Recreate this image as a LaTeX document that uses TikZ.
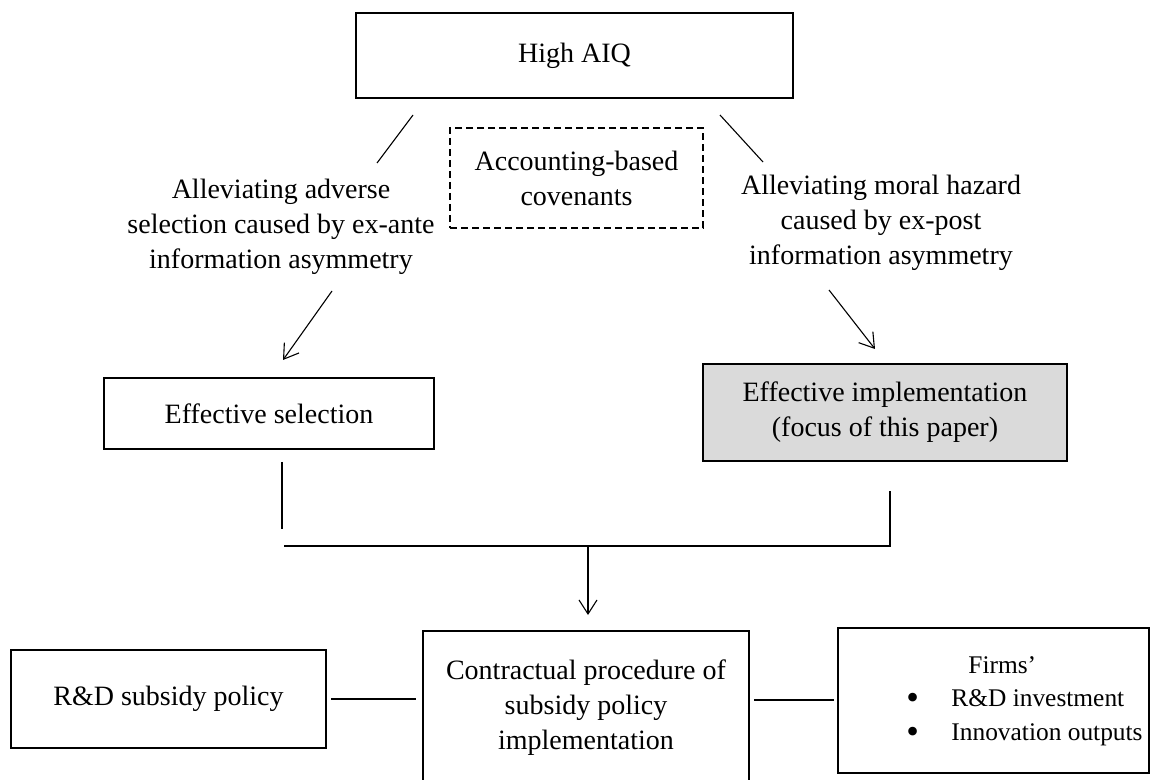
\documentclass[tikz,border=0pt]{standalone}
\usepackage{fontspec}
\setmainfont{Liberation Serif}
\usetikzlibrary{arrows.meta}
\definecolor{implgray}{RGB}{218,218,218}
\newcommand{\bigbul}{\makebox[22.5pt][l]{\raisebox{-1.6pt}{\fontsize{18}{18}\selectfont\textbullet}}}
\begin{document}
\begin{tikzpicture}[x=0.5pt,y=-0.5pt,
  every node/.style={font=\fontsize{14}{17.5}\selectfont, align=center},
  boxnode/.style={draw=black, line width=1pt, rectangle, inner sep=0pt},
  dashbox/.style={draw=black, line width=0.7pt, dash pattern=on 3.5pt off 2pt, rectangle, inner sep=0pt},
  conn/.style={draw=black, line width=0.55pt},
  arr/.style={conn, -{Straight Barb[length=7pt,width=9pt,line width=0.55pt]}},
  txt/.style={inner sep=0pt}
]
\useasboundingbox (0,0) rectangle (1151,780);

% nodes
\node[boxnode, minimum width=218.5pt, minimum height=42.5pt] (top) at (574.5,55.5) {High AIQ};
\node[dashbox, minimum width=126.5pt, minimum height=50pt] (cov) at (576.5,178) {Accounting-based\\covenants};
\node[txt] (adv) at (281,227) {Alleviating adverse\\selection caused by ex-ante\\information asymmetry};
\node[txt] (moral) at (881,223) {Alleviating moral hazard\\caused by ex-post\\information asymmetry};
\node[boxnode, minimum width=165pt, minimum height=35.5pt] (sel) at (269,413.5) {Effective selection};
\node[boxnode, fill=implgray, minimum width=182pt, minimum height=48.5pt] (impl) at (885,412.5) {Effective implementation\\(focus of this paper)};
\node[boxnode, minimum width=157.5pt, minimum height=49pt] (rd) at (168.5,699) {R\&D subsidy policy};
\node[boxnode, minimum width=163pt, minimum height=76.5pt] (contract) at (586,707.5) {Contractual procedure of\\subsidy policy\\implementation};
\node[boxnode, minimum width=155.5pt, minimum height=72.5pt] (firms) at (993.5,700) {};
\node[txt, anchor=west, align=left, font=\fontsize{12.7}{16.75}\selectfont] (firmstext) at (906,701)
  {\hspace*{31pt}Firms'\\\bigbul R\&D investment\\\bigbul Innovation outputs};

% free connector ends
\coordinate (l1) at (413,115); \coordinate (l2) at (377,163);
\coordinate (r1) at (720,115); \coordinate (r2) at (763,162);
\coordinate (la1) at (332,291); \coordinate (la2) at (283,360);
\coordinate (ra1) at (829,290); \coordinate (ra2) at (875,349);
\coordinate (sv1) at (282,462); \coordinate (sv2) at (282,529);
\coordinate (iv1) at (890,491);
\coordinate (hl) at (284,546); \coordinate (hr) at (890,546);
\coordinate (hm) at (588,546); \coordinate (cm) at (588,615);

% connectors
\draw[conn] (l1) -- (l2);
\draw[conn] (r1) -- (r2);
\draw[arr] (la1) -- (la2);
\draw[arr] (ra1) -- (ra2);
\draw[conn] (sv1) -- (sv2);
\draw[conn] (iv1) -- (hr) -- (hl);
\draw[arr] (hm) -- (cm);
\draw[conn, shorten <=2pt, shorten >=3pt] (rd.east) -- (rd.east -| contract.west);
\draw[conn, shorten <=2pt, shorten >=1.5pt] (contract.east |- firms.west) -- (firms.west);
\end{tikzpicture}
\end{document}
